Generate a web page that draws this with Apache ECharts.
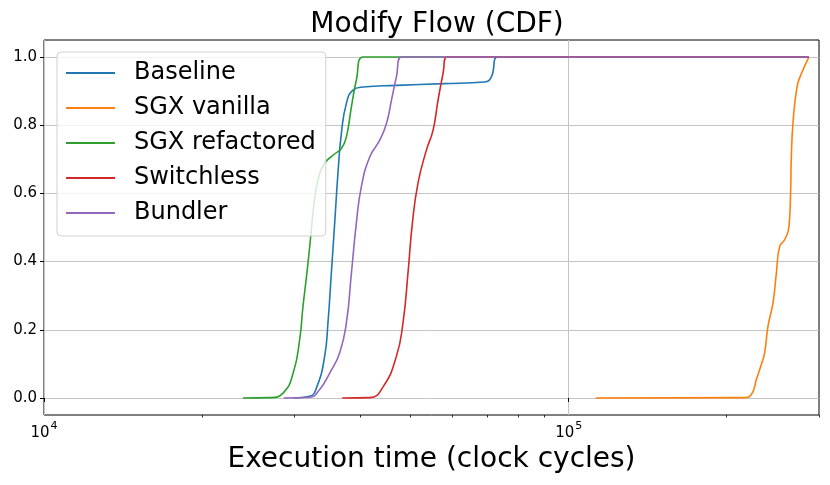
<!DOCTYPE html>
<html>
<head>
<meta charset="utf-8">
<script src="https://cdn.jsdelivr.net/npm/echarts@6/dist/echarts.min.js"></script>
<style>
html,body{margin:0;padding:0;background:#fff;}
#chart{width:830px;height:485px;}
</style>
</head>
<body>
<div id="chart"></div>
<script>
// ---- data (x: clock cycles, y: cumulative fraction) ----
const seriesNames = ['Baseline', 'SGX vanilla', 'SGX refactored', 'Switchless', 'Bundler'];
const baseline = [[30000,0],[32090,0.005],[33140,0.034],[34270,0.122],[34770,0.22],[35290,0.366],[35810,0.512],[36330,0.659],[36880,0.776],[37700,0.864],[38810,0.903],[40560,0.912],[46950,0.917],[57610,0.922],[69180,0.927],[71230,0.942],[73330,1.0],[287000,1.0]];
const sgxVanilla = [[112570,0],[215100,0.001],[222950,0.01],[227900,0.054],[232900,0.098],[236300,0.132],[239800,0.21],[245100,0.278],[248800,0.366],[252400,0.444],[258000,0.464],[263000,0.503],[264900,0.61],[265700,0.707],[267600,0.805],[272400,0.912],[277600,0.951],[287000,1.0]];
const sgxRefactored = [[23950,0],[26950,0.001],[28580,0.015],[29850,0.073],[30710,0.171],[31160,0.268],[31700,0.366],[32190,0.464],[32660,0.561],[33270,0.639],[34270,0.688],[35550,0.712],[36880,0.732],[37700,0.766],[38540,0.854],[39380,0.932],[40560,1.0],[287000,1.0]];
const switchless = [[37020,0],[41770,0.001],[44350,0.034],[46950,0.122],[48330,0.22],[49400,0.366],[50360,0.512],[51620,0.63],[53560,0.727],[55140,0.785],[56360,0.873],[57610,0.951],[58610,1.0],[287000,1.0]];
const bundler = [[28630,0],[32090,0.002],[33530,0.025],[35040,0.073],[36600,0.132],[37700,0.22],[38540,0.366],[39380,0.512],[40260,0.62],[41770,0.707],[43640,0.756],[44950,0.805],[45940,0.873],[46950,0.942],[47990,1.0],[287000,1.0]];
const seriesData = [baseline, sgxVanilla, sgxRefactored, switchless, bundler];
const colors = ['#1f77b4', '#ff7f0e', '#2ca02c', '#d62728', '#9467bd'];

// ---- axes ----
const xMin = 10000, xMax = 300000;
const xMajorTicks = [10000, 100000];
const xMinorTicks = [20000, 30000, 40000, 50000, 60000, 70000, 80000, 90000, 200000, 300000];
const yMin = -0.05, yMax = 1.05;
const yTicks = [0, 0.2, 0.4, 0.6, 0.8, 1.0];

const FONT = 'DejaVu Sans';
const chart = echarts.init(document.getElementById('chart'), null, {renderer: 'canvas'});

const option = {
  backgroundColor: '#ffffff',
  animation: false,
  title: {
    text: 'Modify Flow (CDF)',
    left: 432, textAlign: 'center', top: 6,
    textStyle: {fontFamily: FONT, fontSize: 28, fontWeight: 'normal', color: '#000'}
  },
  grid: {
    left: 44, right: 11, top: 40, bottom: 70,
    outerBoundsMode: 'none', containLabel: false,
    show: true, borderColor: '#000', borderWidth: 1, backgroundColor: 'transparent'
  },
  legend: {
    data: seriesNames,
    orient: 'vertical', left: 57, top: 52,
    icon: 'rect', itemWidth: 49, itemHeight: 2, itemGap: 11,
    padding: [9, 10, 11, 9],
    backgroundColor: 'rgba(255,255,255,0.8)',
    borderColor: '#d0d0d0', borderWidth: 1, borderRadius: 4,
    textStyle: {fontFamily: FONT, fontSize: 24, color: '#000', lineHeight: 24, padding: [0, 0, 0, 14]}
  },
  xAxis: [{
    type: 'log', logBase: 10, min: xMin, max: xMax,
    position: 'bottom',
    name: 'Execution time (clock cycles)', nameLocation: 'middle', nameGap: 29,
    nameTextStyle: {fontFamily: FONT, fontSize: 28, color: '#000'},
    axisLine: {show: false},
    axisTick: {show: true, customValues: xMajorTicks, length: 4, lineStyle: {color: '#000', width: 1}},
    minorTick: {show: false},
    splitLine: {show: true, lineStyle: {color: '#c4c4c4', width: 1}},
    axisLabel: {
      customValues: xMajorTicks, margin: 6, color: '#000',
      formatter: function (v) { return '{b|10}{s|' + Math.round(Math.log10(v)) + '}'; },
      rich: {
        b: {fontFamily: FONT, fontSize: 15, color: '#000', lineHeight: 20, verticalAlign: 'bottom'},
        s: {fontFamily: FONT, fontSize: 11, color: '#000', lineHeight: 20, verticalAlign: 'top', padding: [0, 0, 0, 1]}
      }
    }
  }, {
    type: 'log', logBase: 10, min: xMin, max: xMax,
    position: 'bottom',
    axisLine: {show: false},
    axisTick: {show: true, customValues: xMinorTicks, length: 2.5, lineStyle: {color: '#000', width: 0.8}},
    axisLabel: {show: false},
    splitLine: {show: false}
  }],
  yAxis: {
    type: 'value', min: yMin, max: yMax,
    axisLine: {show: false},
    axisTick: {show: true, customValues: yTicks, length: 4, lineStyle: {color: '#000', width: 1}},
    splitLine: {show: true, lineStyle: {color: '#c4c4c4', width: 1}},
    axisLabel: {
      customValues: yTicks, margin: 7, color: '#000',
      fontFamily: FONT, fontSize: 15,
      formatter: function (v) { return v.toFixed(1); }
    }
  },
  series: seriesNames.map(function (name, i) {
    return {
      name: name, type: 'line', xAxisIndex: 0,
      data: seriesData[i], showSymbol: false, symbol: 'none',
      smooth: 0.5,
      lineStyle: {color: colors[i], width: 1.6},
      itemStyle: {color: colors[i]},
      emphasis: {disabled: true}
    };
  })
};
chart.setOption(option);
</script>
</body>
</html>
